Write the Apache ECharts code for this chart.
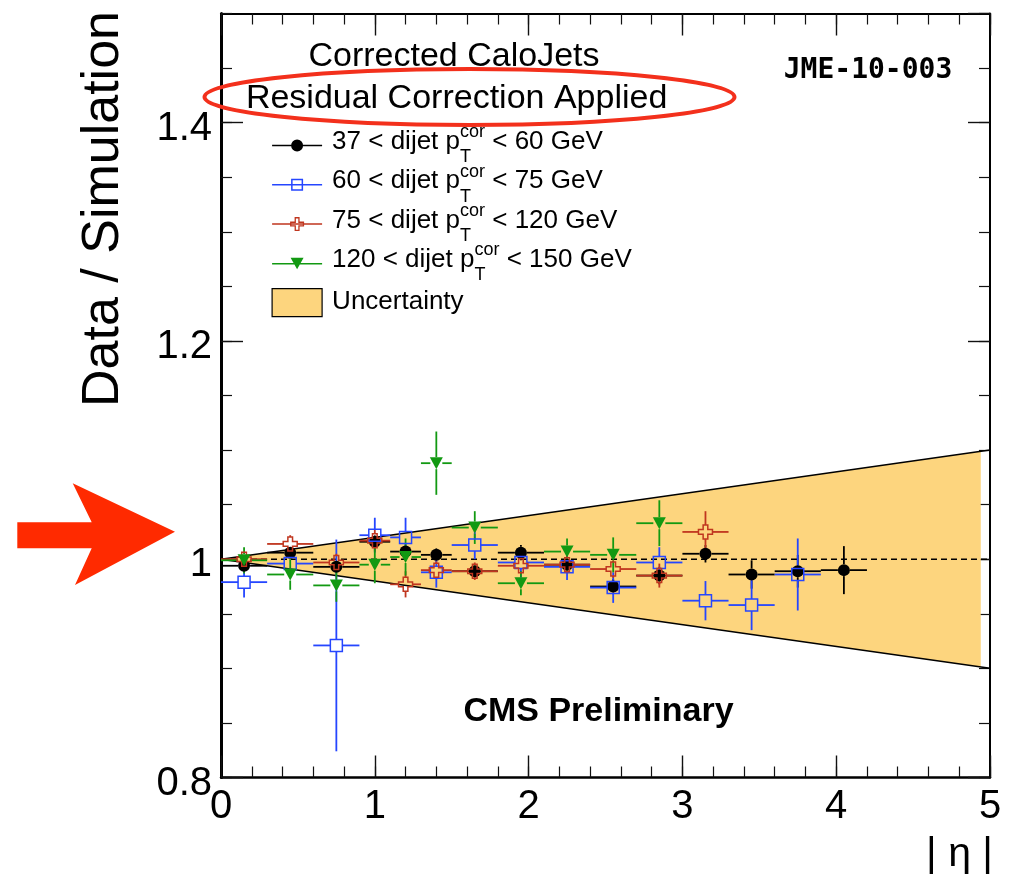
<!DOCTYPE html>
<html>
<head>
<meta charset="utf-8">
<script src="https://cdn.jsdelivr.net/npm/echarts@6/dist/echarts.min.js"></script>
<style>
  html, body { margin: 0; padding: 0; background: #ffffff; }
  #chart { width: 1009px; height: 882px; }
</style>
</head>
<body>
<div id="chart"></div>
<script>
// |eta| bin centres and half-widths
const etaCenters    = [0.15, 0.45, 0.75, 1.0, 1.2, 1.4, 1.65, 1.95, 2.25, 2.55, 2.85, 3.15, 3.45, 3.75, 4.05];
const etaHalfWidths = [0.15, 0.15, 0.15, 0.1, 0.1, 0.1, 0.15, 0.15, 0.15, 0.15, 0.15, 0.15, 0.15, 0.15, 0.15];

// Data / Simulation response ratio per dijet pT bin, with statistical errors
const ratio37to60 = [0.994, 1.006, 0.993, 1.016, 1.007, 1.004, 0.989, 1.006, 0.995, 0.975, 0.985, 1.005, 0.986, 0.989, 0.990];
const err37to60   = [0.004, 0.005, 0.005, 0.006, 0.006, 0.006, 0.006, 0.007, 0.007, 0.007, 0.008, 0.008, 0.013, 0.015, 0.022];

const ratio60to75 = [0.979, 0.996, 0.921, 1.022, 1.020, 0.988, 1.013, 0.997, 0.993, 0.974, 0.997, 0.962, 0.958, 0.986];
const err60to75   = [0.014, 0.012, 0.097, 0.016, 0.018, 0.014, 0.013, 0.014, 0.012, 0.014, 0.014, 0.018, 0.023, 0.033];

const ratio75to120 = [1.000, 1.014, 0.997, 1.017, 0.977, 0.990, 0.989, 0.994, 0.995, 0.991, 0.985, 1.025];
const err75to120   = [0.006, 0.008, 0.008, 0.010, 0.012, 0.008, 0.008, 0.008, 0.008, 0.008, 0.011, 0.019];

const ratio120to150 = [0.999, 0.986, 0.976, 0.995, 1.002, 1.088, 1.029, 0.978, 1.007, 1.004, 1.033];
const err120to150   = [0.012, 0.014, 0.015, 0.017, 0.017, 0.029, 0.015, 0.011, 0.012, 0.016, 0.021];

// pT bin edges used in the legend
const ptLow  = [37, 60, 75, 120];
const ptHigh = [60, 75, 120, 150];

// systematic uncertainty band (filled area) and its edge lines
const bandEta   = [0, 4.94];
const bandUpper = [1.0, 1.0988];
const bandLower = [1.0, 0.9012];
const bandEdgeEta   = [0, 5];
const bandEdgeUpper = [1.0, 1.1];
const bandEdgeLower = [1.0, 0.9];

// reference line at unity
const unityEta   = [0, 5];
const unityRatio = [1, 1];

// axis ranges and tick steps
const xRange = [0, 5];
const yRange = [0.8, 1.5];
const xMajorStep = 1, xMinorStep = 0.2;
const yMajorStep = 0.2, yMinorStep = 0.05;

const FONT = '"Liberation Sans", Arial, Helvetica, sans-serif';
const BAND_COLOR = '#fdd57e';
const COLORS = ['#000000', '#2546ff', '#c0361f', '#129912'];

const chart = echarts.init(document.getElementById('chart'), null, { renderer: 'canvas' });

function zip(xs, ys) { return xs.map((x, i) => [x, ys[i]]); }

function pointsWithErrors(values, errors) {
  return values.map((v, i) => [etaCenters[i], v, etaHalfWidths[i], errors[i]]);
}

// error bars that stop at the edge of the marker
function errorBarRenderer(color, gap) {
  return function (params, api) {
    const x = api.value(0), y = api.value(1), ex = api.value(2), ey = api.value(3);
    const c = api.coord([x, y]);
    const l = api.coord([x - ex, y]);
    const r = api.coord([x + ex, y]);
    const t = api.coord([x, y + ey]);
    const b = api.coord([x, y - ey]);
    const style = { stroke: color, lineWidth: 1.8 };
    const children = [];
    const seg = (x1, y1, x2, y2) => children.push({ type: 'line', shape: { x1, y1, x2, y2 }, style });
    if (c[0] - l[0] > gap) seg(l[0], c[1], c[0] - gap, c[1]);
    if (r[0] - c[0] > gap) seg(c[0] + gap, c[1], r[0], c[1]);
    if (c[1] - t[1] > gap) seg(c[0], t[1], c[0], c[1] - gap);
    if (b[1] - c[1] > gap) seg(c[0], c[1] + gap, c[0], b[1]);
    return { type: 'group', children };
  };
}

const seriesNames = ptLow.map((lo, i) => lo + ' < dijet pT < ' + ptHigh[i] + ' GeV');
const UNC = 'Uncertainty';

const markerDefs = [
  { symbol: 'circle', size: 12, itemStyle: { color: COLORS[0], opacity: 1 }, gap: 6 },
  { symbol: 'rect', size: 12, itemStyle: { color: 'rgba(0,0,0,0)', borderColor: COLORS[1], borderWidth: 1.5, opacity: 1 }, gap: 6 },
  { symbol: 'path://M4,0H8V4H12V8H8V12H4V8H0V4H4Z', size: 14, itemStyle: { color: 'rgba(0,0,0,0)', borderColor: COLORS[2], borderWidth: 1.5, opacity: 1 }, gap: 7 },
  { symbol: 'triangle', size: [13, 12], rotate: 180, itemStyle: { color: COLORS[3], opacity: 1 }, gap: 6 }
];
const valueSets = [[ratio37to60, err37to60], [ratio60to75, err60to75], [ratio75to120, err75to120], [ratio120to150, err120to150]];

const series = [];

// uncertainty band
series.push({
  type: 'custom',
  name: UNC,
  silent: true,
  z: 1,
  data: [[bandEta[0], bandUpper[0]]],
  renderItem: function (params, api) {
    const pts = [];
    bandEta.forEach((e, i) => pts.push(api.coord([e, bandUpper[i]])));
    for (let i = bandEta.length - 1; i >= 0; i--) pts.push(api.coord([bandEta[i], bandLower[i]]));
    return { type: 'polygon', shape: { points: pts }, style: { fill: BAND_COLOR, stroke: null } };
  },
  itemStyle: { color: BAND_COLOR }
});

// band edges
[bandEdgeUpper, bandEdgeLower].forEach(edge => {
  series.push({
    type: 'line', silent: true, z: 2, symbol: 'none',
    data: zip(bandEdgeEta, edge),
    lineStyle: { color: '#000', width: 1.5 }
  });
});

// unity line
series.push({
  type: 'line', silent: true, z: 3, symbol: 'none',
  data: zip(unityEta, unityRatio),
  lineStyle: { color: '#000', width: 1.5, type: [6, 4] }
});

// data points
valueSets.forEach(([vals, errs], k) => {
  const data = pointsWithErrors(vals, errs);
  const m = markerDefs[k];
  series.push({
    type: 'custom', silent: true, z: 4,
    data: data,
    encode: { x: 0, y: 1 },
    renderItem: errorBarRenderer(COLORS[k], m.gap)
  });
  series.push({
    type: 'scatter', name: seriesNames[k], silent: true, z: 4,
    data: data.map(d => [d[0], d[1]]),
    symbol: m.symbol,
    symbolSize: m.size,
    symbolRotate: m.rotate || 0,
    itemStyle: m.itemStyle,
    emphasis: { disabled: true }
  });
});

// legend icons: line with the marker on it
const legendIcons = [
  'path://M0,7.25H50V8.75H0Z M19,8A6,6 0 1,1 31,8A6,6 0 1,1 19,8Z',
  'path://M0,7.25H50V8.75H0Z M19,2H31V14H19Z M20.5,3.5V12.5H29.5V3.5Z',
  'path://M0,7.25H50V8.75H0Z M22.5,1H27.5V5.5H32V10.5H27.5V15H22.5V10.5H18V5.5H22.5Z M23.8,2.3V6.8H19.3V9.2H23.8V13.7H26.2V9.2H30.7V6.8H26.2V2.3Z',
  'path://M0,7.25H50V8.75H0Z M18.5,2H31.5L25,13.5Z'
];

const legendData = seriesNames.map((n, k) => ({
  name: n,
  icon: legendIcons[k],
  itemStyle: { color: COLORS[k], borderWidth: 0, borderColor: 'rgba(0,0,0,0)', opacity: 1 }
}));
legendData.push({
  name: UNC,
  icon: 'rect',
  itemStyle: { color: BAND_COLOR, borderColor: '#000', borderWidth: 1.2, opacity: 1 }
});

const majorTick = { show: true, inside: true, length: 22, lineStyle: { color: '#111', width: 1.4 } };
const minorTickStyle = { show: true, inside: true, length: 11, lineStyle: { color: '#111', width: 1.2 } };

function frameLine(width) {
  return { show: true, onZero: false, lineStyle: { color: '#000', width: width } };
}

function axisCommon(extra) {
  return Object.assign({
    type: 'value',
    axisLine: { show: false, onZero: false },
    axisTick: majorTick,
    axisLabel: { show: false },
    splitLine: { show: false },
    minorTick: { show: false },
    silent: true
  }, extra);
}

const tickLabelStyle = { fontFamily: FONT, fontSize: 40, color: '#000' };

const xAxes = [
  axisCommon({
    position: 'bottom', min: xRange[0], max: xRange[1], interval: xMajorStep,
    axisLine: frameLine(2.5),
    axisLabel: Object.assign({ show: true, margin: 9 }, tickLabelStyle),
    name: '| \u03b7 |', nameLocation: 'end', nameGap: 3, nameMoveOverlap: false,
    nameTextStyle: { fontFamily: FONT, fontSize: 41, color: '#000', align: 'right', verticalAlign: 'top', padding: [57, 0, 0, 0] }
  }),
  axisCommon({ position: 'bottom', min: xRange[0], max: xRange[1], interval: xMinorStep, axisTick: minorTickStyle }),
  axisCommon({ position: 'top', min: xRange[0], max: xRange[1], interval: xMajorStep, axisLine: frameLine(2) }),
  axisCommon({ position: 'top', min: xRange[0], max: xRange[1], interval: xMinorStep, axisTick: minorTickStyle })
];

const yAxes = [
  axisCommon({
    position: 'left', min: yRange[0], max: yRange[1], interval: yMajorStep,
    axisLine: frameLine(3),
    axisLabel: Object.assign({
      show: true, margin: 9, showMaxLabel: false, verticalAlign: 'middle',
      formatter: v => '{v|' + v + '}',
      rich: { v: { fontFamily: FONT, fontSize: 40, color: '#000', padding: [12, 0, 0, 0] } }
    }, tickLabelStyle),
    name: 'Data / Simulation', nameLocation: 'middle', nameGap: 117, nameRotate: 90, nameMoveOverlap: false,
    nameTextStyle: { fontFamily: FONT, fontSize: 52, color: '#000', align: 'center', verticalAlign: 'middle', padding: [0, 0, 0, 373] }
  }),
  axisCommon({ position: 'left', min: yRange[0], max: yRange[1], interval: yMinorStep, axisTick: minorTickStyle }),
  axisCommon({ position: 'right', min: yRange[0], max: yRange[1], interval: yMajorStep, axisLine: frameLine(2) }),
  axisCommon({ position: 'right', min: yRange[0], max: yRange[1], interval: yMinorStep, axisTick: minorTickStyle })
];

const option = {
  animation: false,
  backgroundColor: '#ffffff',
  grid: { left: 221, right: 19, top: 13.5, bottom: 104.5, outerBoundsMode: 'none', containLabel: false },
  xAxis: xAxes,
  yAxis: yAxes,
  legend: {
    orient: 'vertical',
    left: 271.5,
    top: 123.5,
    padding: 0,
    itemWidth: 50,
    itemHeight: 28,
    itemGap: -4.7,
    selectedMode: false,
    data: legendData,
    textStyle: {
      fontFamily: FONT, fontSize: 26, color: '#000',
      rich: {
        a: { fontFamily: FONT, fontSize: 26, color: '#000', height: 36.5, lineHeight: 44, padding: [0, 0, 7.5, 5] },
        b: { fontFamily: FONT, fontSize: 26, color: '#000', height: 36.5, lineHeight: 44, padding: [0, 0, 7.5, 0] },
        u: { fontFamily: FONT, fontSize: 18, color: '#000', height: 18, lineHeight: 44, width: 0, padding: [0, 0, 26, 0] },
        d: { fontFamily: FONT, fontSize: 18, color: '#000', height: 20, lineHeight: 44, width: 25, padding: [24, 0, 0, 0] },
        c: { fontFamily: FONT, fontSize: 26, color: '#000', height: 42.5, lineHeight: 44, padding: [0, 0, 1.5, 5] }
      }
    },
    formatter: function (name) {
      const k = seriesNames.indexOf(name);
      if (k < 0) return '{c|' + name + '}';
      return '{a|' + ptLow[k] + ' < dijet p}{u|cor}{d|T}{b| < ' + ptHigh[k] + ' GeV}';
    }
  },
  graphic: [
    { type: 'text', z: 100, silent: true,
      style: { text: 'Corrected CaloJets', x: 454, y: 57, fontFamily: FONT, fontSize: 34, fill: '#000',
               align: 'center', verticalAlign: 'middle', textAlign: 'center', textVerticalAlign: 'middle' } },
    { type: 'text', z: 100, silent: true,
      style: { text: 'Residual Correction Applied', x: 456.6, y: 99, fontFamily: FONT, fontSize: 34, fill: '#000',
               align: 'center', verticalAlign: 'middle', textAlign: 'center', textVerticalAlign: 'middle' } },
    { type: 'ellipse', z: 101, silent: true,
      shape: { cx: 469.5, cy: 97, rx: 265, ry: 28 },
      style: { fill: null, stroke: '#f3301c', lineWidth: 4 } },
    { type: 'text', z: 100, silent: true,
      style: { text: 'JME-10-003', x: 868, y: 71, fontFamily: '"DejaVu Sans Mono", monospace', fontWeight: 'bold', fontSize: 28, fill: '#000',
               align: 'center', verticalAlign: 'middle', textAlign: 'center', textVerticalAlign: 'middle' } },
    { type: 'text', z: 100, silent: true,
      style: { text: 'CMS Preliminary', x: 598.5, y: 712, fontFamily: FONT, fontWeight: 'bold', fontSize: 34, fill: '#000',
               align: 'center', verticalAlign: 'middle', textAlign: 'center', textVerticalAlign: 'middle' } },
    { type: 'polygon', z: 100, silent: true,
      shape: { points: [[17.3, 522.3], [91.7, 522.3], [72.7, 483.3], [175, 531.7], [75, 585], [91.7, 548.3], [17.3, 548.3]] },
      style: { fill: '#ff2a00', stroke: null } }
  ],
  series: series
};

chart.setOption(option);
</script>
</body>
</html>
